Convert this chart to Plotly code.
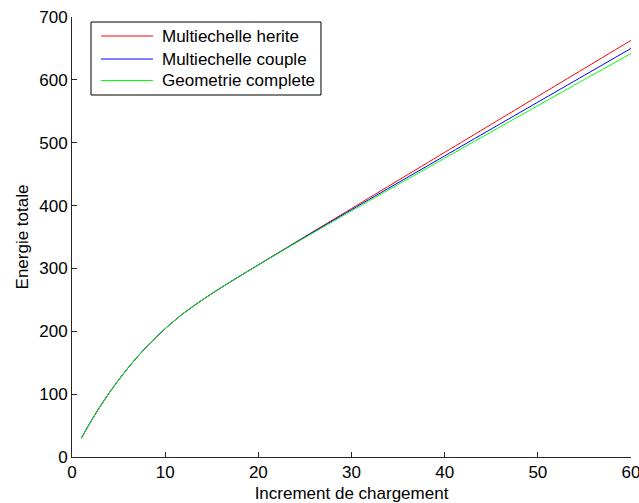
import plotly.graph_objects as go

# Common loading increments (all three curves coincide up to ~17)
x_common = [1, 2, 3, 4, 5, 6, 7, 8, 9, 10, 11, 12, 13, 14, 15, 16, 17]
y_common = [30, 56, 80, 102, 122.5, 141.5, 159, 175.2, 190.2, 204.1, 217, 229,
            239.8, 250, 259.8, 269.3, 278.6]

# Diverging part
x_tail = [18, 19, 20, 22, 25, 30, 35, 40, 45, 50, 55, 60]
y_herite = [287.7, 296.7, 305.7, 323.7, 350.6, 395.3, 440, 484.6, 529.2, 573.8, 618.3, 662.8]
y_couple = [287.7, 296.7, 305.6, 323.4, 349.9, 393.5, 436.3, 479, 521.8, 564.5, 607.3, 650]
y_complete = [287.7, 296.6, 305.5, 323, 349, 391.5, 433.5, 475.4, 517.2, 559, 600.6, 642]

series_names = ["Multiechelle herite", "Multiechelle couple", "Geometrie complete"]
series_colors = ["#ff0000", "#0000ff", "#00ff00"]
tails = [y_herite, y_couple, y_complete]

x_ticks = [0, 10, 20, 30, 40, 50, 60]
y_ticks = [0, 100, 200, 300, 400, 500, 600, 700]

FONT = "Liberation Sans, Arial, Helvetica, sans-serif"

fig = go.Figure()
for name, color, tail in zip(series_names, series_colors, tails):
    fig.add_trace(go.Scatter(
        x=x_common + x_tail,
        y=y_common + tail,
        mode="lines",
        name=name,
        showlegend=False,
        line=dict(color=color, width=1, shape="spline", smoothing=0.8),
    ))

# Legend box drawn in paper coordinates (MATLAB-style)
legend_x0, legend_x1 = 0.034, 0.4454
legend_y0, legend_y1 = 0.8227, 0.9886
sample_x0, sample_x1 = 0.0519, 0.1449
text_x = 0.1574
row_y = [0.9568, 0.9045, 0.8557]

fig.add_shape(type="rect", xref="paper", yref="paper",
              x0=legend_x0, x1=legend_x1, y0=legend_y0, y1=legend_y1,
              line=dict(color="#000000", width=1), fillcolor="white", layer="above")
for name, color, ry in zip(series_names, series_colors, row_y):
    fig.add_shape(type="line", xref="paper", yref="paper",
                  x0=sample_x0, x1=sample_x1, y0=ry, y1=ry,
                  line=dict(color=color, width=1), layer="above")
    fig.add_annotation(xref="paper", yref="paper", x=text_x, y=ry,
                       text=name, showarrow=False, xanchor="left", yanchor="middle",
                       font=dict(family=FONT, size=17, color="#000000"))

axis_common = dict(
    showgrid=False,
    zeroline=False,
    showline=True,
    linecolor="#262626",
    linewidth=1,
    ticks="inside",
    ticklen=5,
    tickwidth=1,
    tickcolor="#262626",
    tickfont=dict(family=FONT, size=17, color="#000000"),
    ticklabeloverflow="allow",
    mirror=False,
)

fig.update_layout(
    width=639,
    height=503,
    margin=dict(l=72, r=8, t=17, b=46),
    paper_bgcolor="white",
    plot_bgcolor="white",
    font=dict(family=FONT, size=17, color="#000000"),
    xaxis=dict(
        range=[0, 60],
        tickvals=x_ticks,
        title=dict(text="Increment de chargement", font=dict(family=FONT, size=17)),
        automargin=False,
        **axis_common,
    ),
    yaxis=dict(
        range=[0, 700],
        tickvals=y_ticks,
        title=dict(text="Energie totale", font=dict(family=FONT, size=17), standoff=6),
        automargin=True,
        **axis_common,
    ),
    showlegend=False,
)

# Remove the default page margin so the figure fills the window exactly
fig.write_html("out.html", config={"displayModeBar": False},
               post_script="document.body.style.margin='0';")
